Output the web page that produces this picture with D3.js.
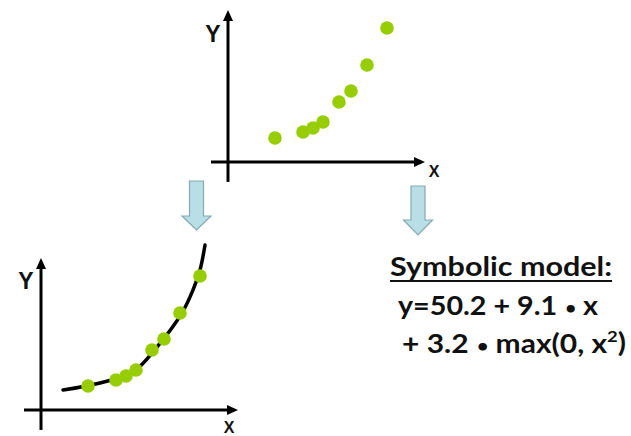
<!DOCTYPE html>
<html><head><meta charset="utf-8">
<script src="https://cdn.jsdelivr.net/npm/d3@7"></script>
<style>html,body{margin:0;padding:0;background:#fff;}svg{display:block;}</style>
</head><body>
<script>
// Observed data (same sample shown in both panels)
const pointX = [2.35, 3.75, 4.25, 4.75, 5.55, 6.15, 6.95, 7.95];
const pointY = [1.6, 2.0, 2.27, 2.67, 4.0, 4.73, 6.47, 8.93];
// Fitted curve
const curveX = [1.1, 2.95, 4.6, 5.8, 7.05, 7.6, 7.95, 8.2];
const curveY = [1.33, 1.8, 2.53, 4.2, 6.47, 8.0, 9.33, 11.0];
const axisLabels = ["X", "Y"];
const modelTitle = "Symbolic model:";
// each line split into pieces: [text, kind]
const modelLine1 = [["y=50.2 + 9.1 ", "n"], ["\u2022", "b"], [" x", "n"]];
const modelLine2 = [["+ 3.2 ", "n"], ["\u2022", "b"], [" max(0, x", "n"], ["2", "s"], [")", "r"]];

const W = 631, H = 436;
const svg = d3.select("body").append("svg").attr("width", W).attr("height", H);

const green = "#97cd05";
const arrowFill = "#b9dfe6", arrowStroke = "#86a9b0";

function panel(ox, oy, curve, labelPos) {
  const x = d3.scaleLinear().domain([0, 10]).range([ox, ox + 200]);
  const y = d3.scaleLinear().domain([0, 10]).range([oy, oy - 150]);
  const g = svg.append("g");
  const xTip = x(9.85), yTip = y(10.13);
  g.append("line").attr("x1", x(-0.85)).attr("x2", xTip - 4).attr("y1", y(0)).attr("y2", y(0))
    .attr("stroke", "#000").attr("stroke-width", 3);
  g.append("line").attr("x1", x(0)).attr("x2", x(0)).attr("y1", y(-1.33)).attr("y2", yTip + 4)
    .attr("stroke", "#000").attr("stroke-width", 3);
  g.append("path").attr("d", `M${xTip},${y(0)} L${xTip-11},${y(0)-5} L${xTip-11},${y(0)+5} Z`).attr("fill", "#000");
  g.append("path").attr("d", `M${x(0)},${yTip} L${x(0)-5},${yTip+11} L${x(0)+5},${yTip+11} Z`).attr("fill", "#000");
  g.append("text").attr("x", x(0) - 15).attr("y", labelPos.yY).attr("text-anchor", "middle")
    .attr("font-family", "Liberation Sans, Arial, sans-serif").attr("font-weight", "bold")
    .attr("font-size", 23).attr("fill", "#111").text(axisLabels[1]);
  g.append("text").attr("x", labelPos.xX).attr("y", labelPos.yX).attr("text-anchor", "middle")
    .attr("font-family", "Liberation Sans, Arial, sans-serif").attr("font-weight", "bold")
    .attr("font-size", 16).attr("fill", "#111").text(axisLabels[0]);
  if (curve) {
    const line = d3.line().x(d => x(d[0])).y(d => y(d[1])).curve(d3.curveCatmullRom.alpha(0.5));
    g.append("path").datum(d3.zip(curveX, curveY)).attr("d", line)
      .attr("fill", "none").attr("stroke", "#000").attr("stroke-width", 3.5).attr("stroke-linecap", "round");
  }
  g.selectAll("circle").data(d3.zip(pointX, pointY)).join("circle")
    .attr("cx", d => x(d[0])).attr("cy", d => y(d[1])).attr("r", 6.8).attr("fill", green);
}

panel(228, 162, false, {yY: 42, xX: 434, yX: 177});
panel(41, 410, true, {yY: 289, xX: 229, yX: 433});

function downArrow(cx, top, headStart, tip) {
  const sw = 7, hw = 14.5;
  svg.append("path")
    .attr("d", `M${cx-sw},${top} L${cx+sw},${top} L${cx+sw},${headStart} L${cx+hw},${headStart} L${cx},${tip} L${cx-hw},${headStart} L${cx-sw},${headStart} Z`)
    .attr("fill", arrowFill).attr("stroke", arrowStroke).attr("stroke-width", 1.2).attr("stroke-linejoin", "miter");
}
downArrow(196.5, 181, 216, 230);
downArrow(418, 186, 220, 235);

const font = "Lato, 'Open Sans', sans-serif";
svg.append("text").attr("x", 390).attr("y", 276).attr("font-family", font).attr("font-weight", "bold")
  .attr("font-size", 26).attr("fill", "#111").attr("textLength", 222).attr("lengthAdjust", "spacingAndGlyphs")
  .text(modelTitle);
svg.append("line").attr("x1", 390).attr("x2", 612).attr("y1", 281).attr("y2", 281)
  .attr("stroke", "#111").attr("stroke-width", 2);

function richLine(parts, x0, y0, len) {
  const t = svg.append("text").attr("x", x0).attr("y", y0).attr("font-family", font).attr("font-weight", "bold")
    .attr("font-size", 26).attr("fill", "#111").attr("textLength", len).attr("lengthAdjust", "spacingAndGlyphs");
  parts.forEach(([s, k]) => {
    const sp = t.append("tspan").text(s);
    if (k === "b") sp.attr("font-size", 17).attr("dy", -1.5).attr("dx", 1);
    if (k === "n" && s.startsWith(" ")) sp.attr("dy", 1.5);
    if (k === "s") sp.attr("font-size", 16).attr("dy", -11.5);
    if (k === "r") sp.attr("dy", 10);
  });
}
richLine(modelLine1, 398, 315, 200);
richLine(modelLine2, 402, 353, 224);
</script>
</body></html>
